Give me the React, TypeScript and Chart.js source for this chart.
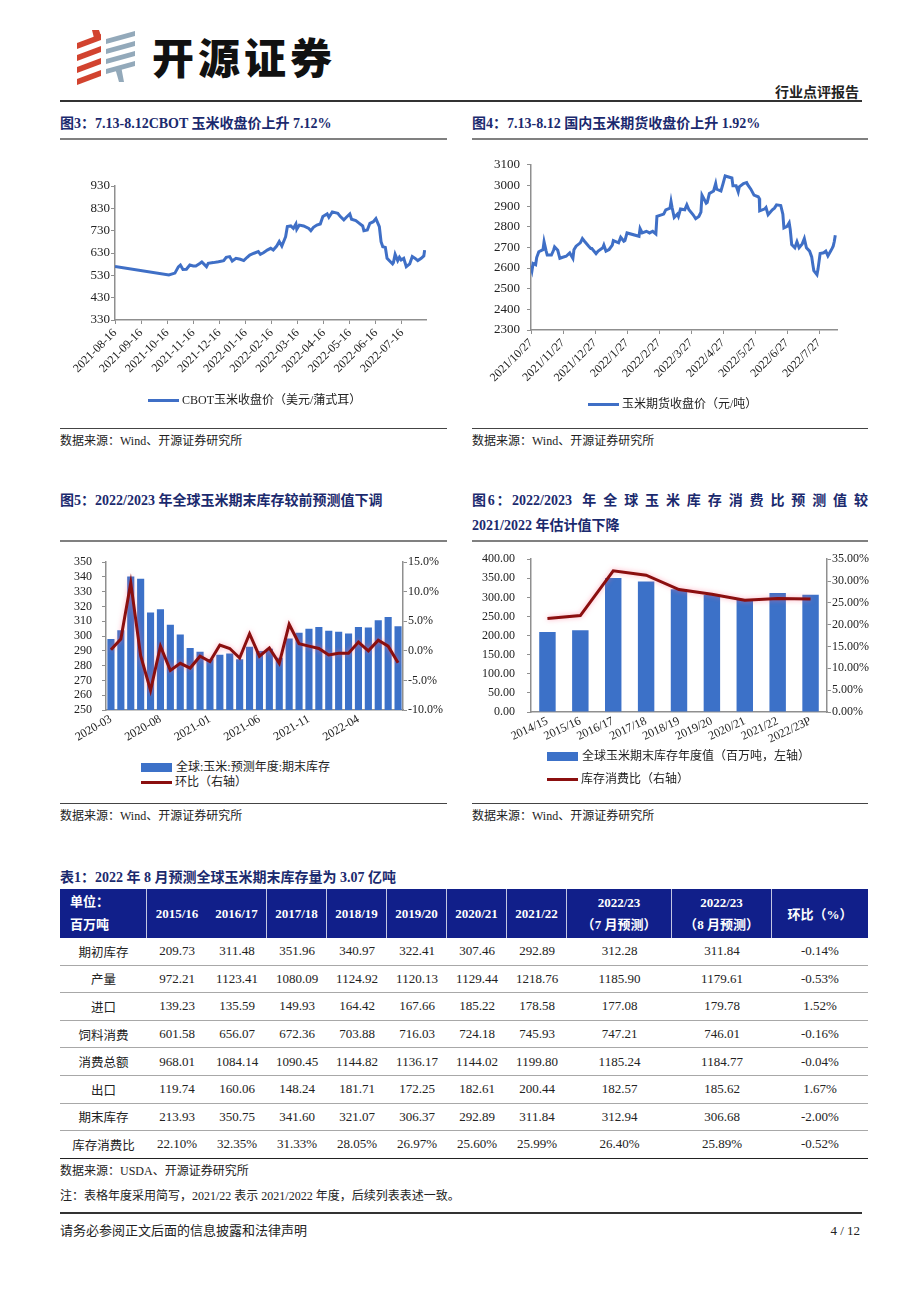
import React, { useEffect, useRef } from "react";
import { Chart, registerables } from "chart.js";

Chart.register(...registerables);

const SERIF = '"Liberation Serif", "Noto Sans CJK SC", serif';
const CJK = '"Noto Sans CJK SC", "Liberation Serif", sans-serif';
Chart.defaults.font.family = SERIF;
Chart.defaults.color = "#222";

const LINE_BLUE = "#3F6FC6";
const BAR_BLUE = "#3C71C8";
const DARK_RED = "#8B0F0F";
const AXIS = "#8f8f8f";
const NAVY = "#1B2A6E";
const HEAD_BG = "#111F8A";

// ---------- Figure 3: CBOT corn close ----------
const cbotTickLabels = [
  "2021-08-16", "2021-09-16", "2021-10-16", "2021-11-16", "2021-12-16", "2022-01-16",
  "2022-02-16", "2022-03-16", "2022-04-16", "2022-05-16", "2022-06-16", "2022-07-16",
];
const cbotDates = [
  "2021-08-16", "2021-10-18", "2021-10-25", "2021-10-29", "2021-11-01", "2021-11-04", "2021-11-08",
  "2021-11-12", "2021-11-16", "2021-11-19", "2021-11-24", "2021-11-26", "2021-12-01", "2021-12-03",
  "2021-12-09", "2021-12-15", "2021-12-21", "2021-12-24", "2021-12-28", "2021-12-31", "2022-01-05",
  "2022-01-10", "2022-01-14", "2022-01-18", "2022-01-21", "2022-01-26", "2022-01-31", "2022-02-03",
  "2022-02-07", "2022-02-11", "2022-02-15", "2022-02-18", "2022-02-22", "2022-02-25", "2022-02-28",
  "2022-03-02", "2022-03-04", "2022-03-08", "2022-03-11", "2022-03-14", "2022-03-15", "2022-03-18",
  "2022-03-23", "2022-03-29", "2022-04-01", "2022-04-04", "2022-04-08", "2022-04-12", "2022-04-15",
  "2022-04-20", "2022-04-22", "2022-04-26", "2022-05-02", "2022-05-05", "2022-05-09", "2022-05-12",
  "2022-05-16", "2022-05-18", "2022-05-23", "2022-05-26", "2022-05-31", "2022-06-02", "2022-06-06",
  "2022-06-09", "2022-06-13", "2022-06-16", "2022-06-20", "2022-06-22", "2022-06-24", "2022-06-27",
  "2022-06-29", "2022-07-05", "2022-07-06", "2022-07-08", "2022-07-11", "2022-07-13", "2022-07-15",
  "2022-07-18", "2022-07-21", "2022-07-25", "2022-07-28", "2022-08-01", "2022-08-04", "2022-08-08",
  "2022-08-11", "2022-08-12",
];
const cbotValues = [
  570, 532, 540, 568, 576, 556, 557,
  576, 572, 572, 584, 590, 569, 584,
  587, 591, 596, 611, 614, 594, 606,
  602, 596, 611, 621, 629, 636, 624,
  632, 643, 651, 643, 661, 681, 661,
  703, 748, 751, 740, 760, 736, 755,
  751, 740, 730, 745, 755, 760, 793,
  805, 790, 814, 808, 793, 778, 790,
  805, 781, 775, 766, 751, 730, 733,
  763, 770, 784, 748, 681, 658, 655,
  606, 581, 587, 624, 596, 611, 599,
  606, 569, 581, 614, 606, 596, 606,
  617, 643,
];
const cbotYTicks = [330, 930, 100];

// ---------- Figure 4: domestic corn futures ----------
const dceTickLabels = [
  "2021/10/27", "2021/11/27", "2021/12/27", "2022/1/27", "2022/2/27",
  "2022/3/27", "2022/4/27", "2022/5/27", "2022/6/27", "2022/7/27",
];
const dceDates = [
  "2021-10-27", "2021-10-28", "2021-10-29", "2021-11-01", "2021-11-02", "2021-11-04", "2021-11-08",
  "2021-11-09", "2021-11-11", "2021-11-12", "2021-11-16", "2021-11-18", "2021-11-19", "2021-11-22",
  "2021-11-24", "2021-11-26", "2021-11-30", "2021-12-03", "2021-12-06", "2021-12-07", "2021-12-09",
  "2021-12-13", "2021-12-15", "2021-12-17", "2021-12-21", "2021-12-23", "2021-12-24", "2021-12-28",
  "2021-12-30", "2022-01-04", "2022-01-05", "2022-01-07", "2022-01-10", "2022-01-13", "2022-01-14",
  "2022-01-19", "2022-01-21", "2022-01-24", "2022-01-25", "2022-01-27", "2022-02-08", "2022-02-09",
  "2022-02-11", "2022-02-15", "2022-02-18", "2022-02-21", "2022-02-24", "2022-02-25", "2022-03-01",
  "2022-03-03", "2022-03-07", "2022-03-08", "2022-03-09", "2022-03-11", "2022-03-14", "2022-03-15",
  "2022-03-17", "2022-03-21", "2022-03-23", "2022-03-25", "2022-03-29", "2022-04-01", "2022-04-04",
  "2022-04-06", "2022-04-07", "2022-04-11", "2022-04-12", "2022-04-14", "2022-04-18", "2022-04-20",
  "2022-04-21", "2022-04-25", "2022-04-27", "2022-04-29", "2022-05-05", "2022-05-06", "2022-05-09",
  "2022-05-11", "2022-05-12", "2022-05-16", "2022-05-19", "2022-05-20", "2022-05-23", "2022-05-26",
  "2022-05-30", "2022-05-31", "2022-06-01", "2022-06-06", "2022-06-07", "2022-06-09", "2022-06-13",
  "2022-06-15", "2022-06-17", "2022-06-21", "2022-06-23", "2022-06-24", "2022-06-27", "2022-06-29",
  "2022-06-30", "2022-07-01", "2022-07-04", "2022-07-06", "2022-07-08", "2022-07-11", "2022-07-13",
  "2022-07-15", "2022-07-18", "2022-07-20", "2022-07-21", "2022-07-22", "2022-07-25", "2022-07-26",
  "2022-07-28", "2022-08-01", "2022-08-03", "2022-08-05", "2022-08-08", "2022-08-09", "2022-08-10",
  "2022-08-11", "2022-08-12",
];
const dceValues = [
  2611, 2590, 2622, 2616, 2651, 2679, 2689,
  2727, 2682, 2663, 2663, 2686, 2702, 2686,
  2647, 2651, 2657, 2673, 2647, 2689, 2706,
  2722, 2743, 2730, 2706, 2695, 2695, 2670,
  2682, 2698, 2711, 2682, 2690, 2711, 2733,
  2722, 2749, 2730, 2733, 2770, 2754, 2791,
  2770, 2778, 2770, 2778, 2765, 2850, 2861,
  2882, 2890, 2922, 2893, 2845, 2861, 2850,
  2886, 2882, 2906, 2882, 2858, 2839, 2850,
  2871, 2953, 2914, 2918, 2961, 2973, 3009,
  2982, 2973, 3009, 3046, 3036, 2998, 2998,
  2969, 2993, 3009, 3014, 3004, 2982, 2953,
  2945, 2937, 2877, 2887, 2893, 2858, 2882,
  2890, 2906, 2903, 2861, 2794, 2802, 2819,
  2787, 2714, 2698, 2727, 2698, 2717, 2743,
  2698, 2682, 2654, 2619, 2587, 2568, 2595,
  2670, 2674, 2682, 2659, 2686, 2695, 2706,
  2727, 2759,
];

// ---------- Figure 5: monthly forecast of global ending stocks ----------
const stockMonths = [
  "2020-03", "2020-04", "2020-05", "2020-06", "2020-07", "2020-08", "2020-09", "2020-10",
  "2020-11", "2020-12", "2021-01", "2021-02", "2021-03", "2021-04", "2021-05", "2021-06",
  "2021-07", "2021-08", "2021-09", "2021-10", "2021-11", "2021-12", "2022-01", "2022-02",
  "2022-03", "2022-04", "2022-05", "2022-06", "2022-07", "2022-08",
];
const stockValues = [
  298.0, 304.0, 340.3, 338.8, 315.9, 318.2, 307.6, 301.1,
  292.0, 289.4, 284.5, 287.3, 288.3, 284.3, 292.8, 290.0,
  291.4, 285.3, 298.3, 302.3, 304.9, 306.1, 303.6, 303.0,
  301.7, 306.1, 305.9, 310.8, 312.94, 306.68,
];
const stockMoM = [
  0.2, 2.0, 11.5, -0.8, -6.7, 0.8, -3.3, -2.1,
  -2.9, -0.9, -1.8, 1.0, 0.4, -1.2, 2.9, -0.9,
  0.5, -2.1, 4.5, 1.2, 0.8, 0.4, -0.7, -0.4,
  -0.4, 1.5, 0.0, 1.8, 0.8, -2.0,
];

// ---------- Figure 6: annual ending stocks and stocks-to-use ----------
const yearLabels = ["2014/15", "2015/16", "2016/17", "2017/18", "2018/19", "2019/20", "2020/21", "2021/22", "2022/23P"];
const yearStocks = [209.73, 213.93, 350.75, 341.6, 321.07, 306.37, 292.89, 311.84, 306.68];
const yearRatio = [21.4, 22.1, 32.35, 31.33, 28.05, 26.97, 25.6, 25.99, 25.89];

// ---------- Table 1 ----------
const tableYears = ["2015/16", "2016/17", "2017/18", "2018/19", "2019/20", "2020/21", "2021/22"];
const tableRowNames = ["期初库存", "产量", "进口", "饲料消费", "消费总额", "出口", "期末库存", "库存消费比"];
const tableRows = [
  ["209.73", "311.48", "351.96", "340.97", "322.41", "307.46", "292.89", "312.28", "311.84", "-0.14%"],
  ["972.21", "1123.41", "1080.09", "1124.92", "1120.13", "1129.44", "1218.76", "1185.90", "1179.61", "-0.53%"],
  ["139.23", "135.59", "149.93", "164.42", "167.66", "185.22", "178.58", "177.08", "179.78", "1.52%"],
  ["601.58", "656.07", "672.36", "703.88", "716.03", "724.18", "745.93", "747.21", "746.01", "-0.16%"],
  ["968.01", "1084.14", "1090.45", "1144.82", "1136.17", "1144.02", "1199.80", "1185.24", "1184.77", "-0.04%"],
  ["119.74", "160.06", "148.24", "181.71", "172.25", "182.61", "200.44", "182.57", "185.62", "1.67%"],
  ["213.93", "350.75", "341.60", "321.07", "306.37", "292.89", "311.84", "312.94", "306.68", "-2.00%"],
  ["22.10%", "32.35%", "31.33%", "28.05%", "26.97%", "25.60%", "25.99%", "26.40%", "25.89%", "-0.52%"],
];

function monthOffset(date: string, base: string) {
  const [y, m, d] = date.split("-").map(Number);
  const [by, bm, bd] = base.split("-").map(Number);
  return (y - by) * 12 + (m - bm) + (d - bd) / 30.4;
}

const glowPlugin = {
  id: "lineGlow",
  beforeDatasetDraw(chart: any, args: any) {
    const ds = chart.data.datasets[args.index];
    if (ds.type === "line" && ds.glow) {
      chart.ctx.save();
      chart.ctx.shadowColor = "rgba(255,110,140,0.55)";
      chart.ctx.shadowBlur = 5;
    }
  },
  afterDatasetDraw(chart: any, args: any) {
    const ds = chart.data.datasets[args.index];
    if (ds.type === "line" && ds.glow) chart.ctx.restore();
  },
};

function ChartBox({ config, left, top, width, height }: any) {
  const ref = useRef<HTMLCanvasElement | null>(null);
  useEffect(() => {
    const chart = new Chart(ref.current as HTMLCanvasElement, config);
    return () => chart.destroy();
  }, []);
  return (
    <div style={{ position: "absolute", left, top, width, height }}>
      <canvas ref={ref} width={width} height={height} style={{ width, height, display: "block" }} />
    </div>
  );
}

const baseOpts = {
  responsive: false,
  animation: false as const,
  devicePixelRatio: 1,
  plugins: { legend: { display: false }, tooltip: { enabled: false } },
};

function yAxis(min: number, max: number, step: number, width: number, pad: number, fmt: (v: number) => string, position = "left", size = 12) {
  return {
    type: "linear",
    position,
    min,
    max,
    ticks: { stepSize: step, padding: pad, autoSkip: false, font: { size }, color: "#222", callback: (v: any) => fmt(Number(v)) },
    grid: { drawOnChartArea: false, drawTicks: true, tickLength: 4, color: AXIS, lineWidth: 1 },
    border: { color: AXIS, width: 1.5 },
    afterFit: (s: any) => { s.width = width; },
  };
}

const chart1Config: any = {
  type: "line",
  data: {
    datasets: [{
      data: cbotDates.map((d, i) => ({ x: monthOffset(d, "2021-08-16"), y: cbotValues[i] })),
      borderColor: LINE_BLUE, borderWidth: 3, pointRadius: 0, tension: 0,
    }],
  },
  options: {
    ...baseOpts,
    layout: { padding: { top: 16, right: 21, left: 0, bottom: 0 } },
    scales: {
      x: {
        type: "linear", min: 0, max: 11.92,
        afterBuildTicks: (a: any) => { a.ticks = cbotTickLabels.map((_, i) => ({ value: i })); },
        ticks: { callback: (v: any) => cbotTickLabels[Math.round(Number(v))] ?? "", minRotation: 45, maxRotation: 45, autoSkip: false, font: { size: 12 }, color: "#222", padding: 2 },
        grid: { drawOnChartArea: false, drawTicks: true, tickLength: 4, color: AXIS },
        border: { color: AXIS, width: 1.5 },
        afterFit: (s: any) => { s.height = 80; },
      },
      y: yAxis(cbotYTicks[0], cbotYTicks[1], cbotYTicks[2], 55, 1, (v) => String(v), "left", 13),
    },
  },
};

const chart2Config: any = {
  type: "line",
  data: {
    datasets: [{
      data: dceDates.map((d, i) => ({ x: monthOffset(d, "2021-10-27"), y: dceValues[i] })),
      borderColor: LINE_BLUE, borderWidth: 3, pointRadius: 0, tension: 0,
    }],
  },
  options: {
    ...baseOpts,
    layout: { padding: { top: 13, right: 31, left: 0, bottom: 0 } },
    scales: {
      x: {
        type: "linear", min: 0, max: 9.56,
        afterBuildTicks: (a: any) => { a.ticks = dceTickLabels.map((_, i) => ({ value: i })); },
        ticks: { callback: (v: any) => dceTickLabels[Math.round(Number(v))] ?? "", minRotation: 45, maxRotation: 45, autoSkip: false, font: { size: 12 }, color: "#222", padding: 2 },
        grid: { drawOnChartArea: false, drawTicks: true, tickLength: 4, color: AXIS },
        border: { color: AXIS, width: 1.5 },
        afterFit: (s: any) => { s.height = 70; },
      },
      y: yAxis(2300, 3100, 100, 59, 7, (v) => String(v), "left", 13),
    },
  },
};

const chart3Config: any = {
  data: {
    labels: stockMonths,
    datasets: [
      { type: "line", data: stockMoM, yAxisID: "y1", borderColor: DARK_RED, borderWidth: 3, pointRadius: 0, tension: 0, order: 0, glow: true },
      { type: "bar", data: stockValues, yAxisID: "y", backgroundColor: BAR_BLUE, categoryPercentage: 1, barPercentage: 0.72, order: 1 },
    ],
  },
  plugins: [glowPlugin],
  options: {
    ...baseOpts,
    layout: { padding: { top: 8, right: 0, left: 0, bottom: 0 } },
    scales: {
      x: {
        type: "category", offset: true,
        ticks: { callback: (_v: any, i: number) => (i % 5 === 0 ? stockMonths[i] : ""), minRotation: 30, maxRotation: 30, autoSkip: false, font: { size: 12 }, color: "#222", padding: 2 },
        grid: { drawOnChartArea: false, drawTicks: false, color: AXIS },
        border: { color: AXIS, width: 1.5 },
        afterFit: (s: any) => { s.height = 40; },
      },
      y: yAxis(250, 350, 10, 46, 10, (v) => String(v)),
      y1: yAxis(-10, 15, 5, 47, 1, (v) => v.toFixed(1) + "%", "right"),
    },
  },
};

const chart4Config: any = {
  data: {
    labels: yearLabels,
    datasets: [
      { type: "line", data: yearRatio, yAxisID: "y1", borderColor: DARK_RED, borderWidth: 3, pointRadius: 0, tension: 0, order: 0, glow: true },
      { type: "bar", data: yearStocks, yAxisID: "y", backgroundColor: BAR_BLUE, categoryPercentage: 1, barPercentage: 0.5, order: 1 },
    ],
  },
  plugins: [glowPlugin],
  options: {
    ...baseOpts,
    layout: { padding: { top: 17, right: 0, left: 0, bottom: 0 } },
    scales: {
      x: {
        type: "category", offset: true,
        ticks: { minRotation: 25, maxRotation: 25, autoSkip: false, font: { size: 12 }, color: "#222", padding: 2 },
        grid: { drawOnChartArea: false, drawTicks: false, color: AXIS },
        border: { color: AXIS, width: 1.5 },
        afterFit: (s: any) => { s.height = 38; },
      },
      y: yAxis(0, 400, 50, 59, 12, (v) => v.toFixed(2)),
      y1: yAxis(0, 35, 5, 47, 1, (v) => v.toFixed(2) + "%", "right"),
    },
  },
};

function Txt({ x, y, children, size = 12, bold = false, color = "#222", right = false, font = SERIF, style = {} }: any) {
  const h = size + 6;
  const pos: any = right ? { right: 920 - x } : { left: x };
  return (
    <div style={{ position: "absolute", top: y - h / 2, height: h, lineHeight: h + "px", fontSize: size, fontWeight: bold ? 700 : 400, color, fontFamily: font, whiteSpace: "nowrap", ...pos, ...style }}>
      {children}
    </div>
  );
}

function HLine({ x1, x2, y, w = 1, color = "#333" }: any) {
  return <div style={{ position: "absolute", left: x1, top: y - w / 2, width: x2 - x1, height: w, background: color }} />;
}

function LegendLine({ x, y, color, text }: any) {
  return (
    <>
      <div style={{ position: "absolute", left: x, top: y - 1.5, width: 31, height: 3, background: color }} />
      <Txt x={x + 34} y={y} size={12}>{text}</Txt>
    </>
  );
}

function LegendBox({ x, y, color, text }: any) {
  return (
    <>
      <div style={{ position: "absolute", left: x, top: y - 4.5, width: 31, height: 9, background: color }} />
      <Txt x={x + 35} y={y} size={12}>{text}</Txt>
    </>
  );
}

function Logo() {
  const red = [0, 1, 2, 3].map((i) => {
    const y0 = 34 + i * 12;
    return <polygon key={"r" + i} points={`77,${y0 + 9} 101,${y0} 101,${y0 + 6} 77,${y0 + 15}`} fill="#D2432F" />;
  });
  const gray = [0, 1, 2, 3].map((i) => {
    const y0 = 31 + i * 10;
    return <polygon key={"g" + i} points={`106,${y0 + 8} 135,${y0} 135,${y0 + 5} 106,${y0 + 13}`} fill="#93A9BA" />;
  });
  return (
    <svg width={920} height={100} style={{ position: "absolute", left: 0, top: 0 }}>
      {red}
      <polygon points="92,30 99,30 101,36 94,38" fill="#D2432F" />
      {gray}
      <polygon points="115,68 121,66 124,82 119,82" fill="#93A9BA" />
    </svg>
  );
}

const colWidths = [87, 60, 60, 60, 60, 60, 60, 60, 105, 100, 96];

function DataTable() {
  const headBorder = "1px solid rgba(255,255,255,0.75)";
  const cell = (w: number, extra: any = {}) => ({ width: w, flex: "none", display: "flex", alignItems: "center", justifyContent: "center", ...extra });
  return (
    <div style={{ position: "absolute", left: 60, top: 889, width: 808, fontFamily: SERIF }}>
      <div style={{ display: "flex", height: 49, background: HEAD_BG, color: "#fff", fontWeight: 700, fontSize: 13 }}>
        <div style={cell(colWidths[0], { justifyContent: "flex-start", paddingLeft: 10, boxSizing: "border-box", borderRight: headBorder, flexDirection: "column", alignItems: "flex-start", lineHeight: "23px", fontFamily: CJK })}>
          <div>单位：</div>
          <div>百万吨</div>
        </div>
        {tableYears.map((y, i) => (
          <div key={y} style={cell(colWidths[i + 1], { borderRight: i === 0 ? "none" : headBorder, boxSizing: "border-box" })}>{y}</div>
        ))}
        {["7", "8"].map((m, k) => (
          <div key={m} style={cell(colWidths[8 + k], { flexDirection: "column", lineHeight: "22px", borderRight: headBorder, boxSizing: "border-box" })}>
            <div>2022/23</div>
            <div>（{m} 月预测）</div>
          </div>
        ))}
        <div style={cell(colWidths[10])}>环比（%）</div>
      </div>
      {tableRows.map((row, r) => (
        <div key={r} style={{ display: "flex", height: 27.6, boxSizing: "border-box", borderBottom: r === tableRows.length - 1 ? "1.5px solid #222" : "1.5px solid #a8a8a8", fontSize: 13, color: "#222" }}>
          <div style={cell(colWidths[0], { fontFamily: CJK, fontSize: 12.5 })}>{tableRowNames[r]}</div>
          {row.map((v, c) => (
            <div key={c} style={cell(colWidths[c + 1])}>{v}</div>
          ))}
        </div>
      ))}
    </div>
  );
}

export default function App() {
  return (
    <div style={{ position: "absolute", left: 0, top: 0, width: 920, height: 1302, background: "#fff", overflow: "hidden", fontFamily: SERIF }}>
      <Logo />
      <Txt x={152} y={56} size={42} bold font={CJK} color="#111" style={{ fontWeight: 900, letterSpacing: 4 }}>开源证券</Txt>
      <Txt x={859} y={93} size={14} bold right>行业点评报告</Txt>
      <HLine x1={60} x2={862} y={101} w={1.5} />

      <Txt x={60} y={124} size={14} bold color={NAVY}>图3：7.13-8.12CBOT 玉米收盘价上升 7.12%</Txt>
      <Txt x={472} y={124} size={14} bold color={NAVY}>图4：7.13-8.12 国内玉米期货收盘价上升 1.92%</Txt>
      <HLine x1={60} x2={447} y={139} w={2} color="#808080" />
      <HLine x1={472} x2={868} y={139} w={2} color="#808080" />

      <ChartBox config={chart1Config} left={60} top={170} width={387} height={230} />
      <ChartBox config={chart2Config} left={472} top={150} width={396} height={250} />
      <LegendLine x={148} y={400} color={LINE_BLUE} text="CBOT玉米收盘价（美元/蒲式耳）" />
      <LegendLine x={588} y={404} color={LINE_BLUE} text="玉米期货收盘价（元/吨）" />

      <HLine x1={60} x2={447} y={428} w={1} color="#444" />
      <HLine x1={472} x2={868} y={428} w={1} color="#444" />
      <Txt x={60} y={441} size={12}>数据来源：Wind、开源证券研究所</Txt>
      <Txt x={472} y={441} size={12}>数据来源：Wind、开源证券研究所</Txt>

      <Txt x={60} y={501} size={14} bold color={NAVY}>图5：2022/2023 年全球玉米期末库存较前预测值下调</Txt>
      <div style={{ position: "absolute", left: 472, top: 491, width: 396, height: 20, lineHeight: "20px", fontSize: 14, fontWeight: 700, color: NAVY, textAlign: "justify", textAlignLast: "justify" as any, whiteSpace: "nowrap", fontFamily: SERIF }}>
        图6：2022/2023&nbsp; 年 全 球 玉 米 库 存 消 费 比 预 测 值 较
      </div>
      <Txt x={472} y={526} size={14} bold color={NAVY}>2021/2022 年估计值下降</Txt>
      <HLine x1={60} x2={447} y={541} w={2} color="#808080" />
      <HLine x1={472} x2={868} y={541} w={2} color="#808080" />

      <ChartBox config={chart3Config} left={60} top={545} width={390} height={205} />
      <ChartBox config={chart4Config} left={472} top={540} width={402} height={210} />
      <LegendBox x={141} y={767} color={BAR_BLUE} text="全球:玉米:预测年度:期末库存" />
      <LegendLine x={141} y={782} color={DARK_RED} text="环比（右轴）" />
      <LegendBox x={547} y={756} color={BAR_BLUE} text="全球玉米期末库存年度值（百万吨，左轴）" />
      <LegendLine x={547} y={779} color={DARK_RED} text="库存消费比（右轴）" />

      <HLine x1={60} x2={447} y={803} w={1} color="#444" />
      <HLine x1={472} x2={868} y={803} w={1} color="#444" />
      <Txt x={60} y={816} size={12}>数据来源：Wind、开源证券研究所</Txt>
      <Txt x={472} y={816} size={12}>数据来源：Wind、开源证券研究所</Txt>

      <Txt x={60} y={878} size={14} bold color={NAVY}>表1：2022 年 8 月预测全球玉米期末库存量为 3.07 亿吨</Txt>
      <DataTable />
      <Txt x={60} y={1171} size={12}>数据来源：USDA、开源证券研究所</Txt>
      <Txt x={60} y={1196} size={12}>注：表格年度采用简写，2021/22 表示 2021/2022 年度，后续列表表述一致。</Txt>
      <HLine x1={60} x2={862} y={1213} w={1.5} />
      <Txt x={60} y={1230} size={13}>请务必参阅正文后面的信息披露和法律声明</Txt>
      <Txt x={860} y={1230} size={13} right>4 / 12</Txt>
    </div>
  );
}
